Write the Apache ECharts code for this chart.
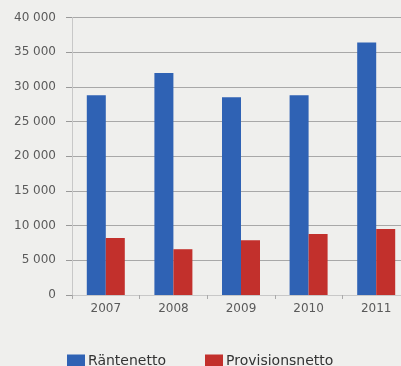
<!DOCTYPE html>
<html>
<head>
<meta charset="utf-8">
<script src="https://cdn.jsdelivr.net/npm/echarts@6/dist/echarts.min.js"></script>
<style>
  html, body { margin: 0; padding: 0; background: #efefed; overflow: hidden; }
  #echarts { width: 410px; height: 366px; }
</style>
</head>
<body>
<div id="echarts"></div>
<script>
var years = ['2007', '2008', '2009', '2010', '2011'];
var rantenetto = [28800, 32000, 28500, 28800, 36400];
var provisionsnetto = [8200, 6600, 7900, 8800, 9500];

var myChart = echarts.init(document.getElementById('echarts'));
var option = {
    backgroundColor: '#efefed',
    animation: false,
    textStyle: { fontFamily: 'DejaVu Sans' },
    legend: {
        data: ['Räntenetto', 'Provisionsnetto'],
        left: 62,
        top: 349,
        itemWidth: 18,
        itemHeight: 13,
        itemGap: 39,
        icon: 'rect',
        textStyle: { fontSize: 14, color: '#333', padding: [0, 0, 0, -2] }
    },
    grid: {
        left: 72,
        top: 17.5,
        right: 0,
        bottom: 71,
        containLabel: false
    },
    xAxis: {
        type: 'category',
        data: years,
        axisLine: { lineStyle: { color: '#c8c8c8' } },
        axisTick: { show: true, length: 4, lineStyle: { color: '#aaa' } },
        axisLabel: { color: '#5a5a5a', fontSize: 12, margin: 8 }
    },
    yAxis: {
        type: 'value',
        min: 0,
        max: 40000,
        interval: 5000,
        axisLine: { show: true, lineStyle: { color: '#c8c8c8' } },
        axisTick: { show: true, length: 6, lineStyle: { color: '#999' } },
        axisLabel: {
            color: '#5a5a5a',
            fontSize: 12,
            margin: 16,
            formatter: function (v) {
                return String(v).replace(/\B(?=(\d{3})+(?!\d))/g, ' ');
            }
        },
        splitLine: { lineStyle: { color: '#a8a8a8', width: 1 } }
    },
    series: [
        {
            name: 'Räntenetto',
            type: 'bar',
            data: rantenetto,
            barWidth: 19,
            barGap: '0%',
            itemStyle: { color: '#2f62b4' }
        },
        {
            name: 'Provisionsnetto',
            type: 'bar',
            data: provisionsnetto,
            barWidth: 19,
            itemStyle: { color: '#c2302c' }
        }
    ]
};
myChart.setOption(option);
</script>
</body>
</html>
